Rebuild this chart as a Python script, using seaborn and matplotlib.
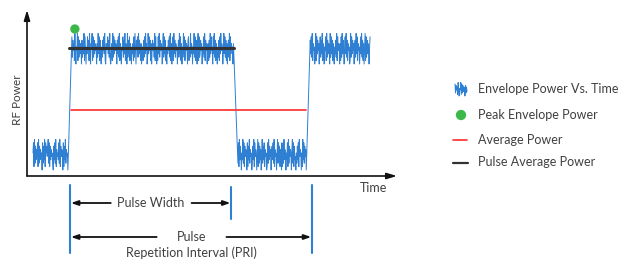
import numpy as np
import pandas as pd
import matplotlib
matplotlib.use("Agg")
import matplotlib.pyplot as plt
import seaborn as sns

# ---- data (time units / power units) ----
segments = ["low", "high", "low", "high"]
seg_start = [6, 45, 211, 284]
seg_end = [41, 207, 280, 344]
noise_digits = [
    "5819273648192736450827391857469281736452073829164538291746508173926450",
    "8274619305491827365072639184053847192065918273645062938174052748391065"
    "5837291046192837465073829164054827391650927381640536182940758293741605"
    "5172839460293847160574629183051839274650692837140537482916058193726450"
    "4729381605293817465078142936505392817406918237460538291746056172938450"
    "83927164052718394650493827160572918364506",
    "6281937405392817465081739264502739184650591827360492738164501829374605"
    "7382916450492837165081729364053819274650692817340527381946505193827460",
    "7382916450291837460582739164054819273650928371640537291846506182937405"
    "839271645019283746057293816450483927160591827364058",
]
low_base, high_base, noise_step = 6, 112, 3.4
avg_power = 66
pulse_avg_power = 128
pulse_avg_span = [42, 208]
avg_span = [44, 280]
peak_time, peak_power = 48, 147
marker_times = [43, 205, 286]
marker_spans = [(-9, -77), (-11, -43), (-9, -77)]

legend_labels = ["Envelope Power Vs. Time", "Peak Envelope Power",
                 "Average Power", "Pulse Average Power"]

# build envelope
ts, ps = [], []
for kind, a, b, digs in zip(segments, seg_start, seg_end, noise_digits):
    d = np.array([int(c) for c in digs])
    t = np.linspace(a, b, len(d))
    base = high_base if kind == "high" else low_base
    ts.extend(t)
    ps.extend(base + d * noise_step)
env = pd.DataFrame({"t": ts, "p": ps})

BLUE = "#2f7fd3"
TXT = "#404040"

sns.set_theme(style="white")
plt.rcParams["font.family"] = ["Lato", "DejaVu Sans"]

W, H = 625, 278
fig = plt.figure(figsize=(W / 100, H / 100), dpi=100)
ax = fig.add_axes([27 / W, (H - 176) / H, (397 - 27) / W, (176 - 10) / H])
ax.set_xlim(0, 371)
ax.set_ylim(0, 166)
ax.axis("off")

sns.lineplot(data=env, x="t", y="p", ax=ax, color=BLUE, linewidth=0.7,
             sort=False, estimator=None)
ax.plot(pulse_avg_span, [pulse_avg_power] * 2, color="#333333", lw=2.2)
ax.plot(avg_span, [avg_power] * 2, color="#ff2a2a", lw=1.2)
sns.scatterplot(x=[peak_time], y=[peak_power], ax=ax, color="#3cb84a",
                s=45, edgecolor="none", zorder=5)

# axes arrows
ax.annotate("", xy=(0, 1.0), xytext=(0, 0), xycoords="axes fraction",
            arrowprops=dict(arrowstyle="-|>,head_length=0.5,head_width=0.15",
                            color="#111111", lw=1.2, shrinkA=0, shrinkB=0),
            annotation_clip=False)
ax.annotate("", xy=(1.0, 0), xytext=(0, 0), xycoords="axes fraction",
            arrowprops=dict(arrowstyle="-|>,head_length=0.5,head_width=0.15",
                            color="#111111", lw=1.2, shrinkA=0, shrinkB=0),
            annotation_clip=False)
ax.text(348, -12, "Time", ha="center", va="center", color=TXT, fontsize=9,
        clip_on=False)
ax.text(-10, 76, "RF Power", ha="center", va="center", rotation=90,
        color=TXT, fontsize=8.5, clip_on=False)

# markers below
for t, (y0, y1) in zip(marker_times, marker_spans):
    ax.plot([t, t], [y0, y1], color=BLUE, lw=1.5, clip_on=False)

arr = dict(arrowstyle="-|>,head_length=0.35,head_width=0.12", color="#111111",
           lw=1.3, shrinkA=0, shrinkB=0)
ax.annotate("", xy=(44, -27), xytext=(84, -27), arrowprops=arr, annotation_clip=False)
ax.annotate("", xy=(204, -27), xytext=(165, -27), arrowprops=arr, annotation_clip=False)
ax.text(124, -27, "Pulse Width", ha="center", va="center", color=TXT, fontsize=9,
        clip_on=False)
ax.annotate("", xy=(44, -61), xytext=(130, -61), arrowprops=arr, annotation_clip=False)
ax.annotate("", xy=(285, -61), xytext=(200, -61), arrowprops=arr, annotation_clip=False)
ax.text(165, -61, "Pulse", ha="center", va="center", color=TXT, fontsize=9,
        clip_on=False)
ax.text(165, -77, "Repetition Interval (PRI)", ha="center", va="center",
        color=TXT, fontsize=9, clip_on=False)

# legend
lax = fig.add_axes([440 / W, (H - 180) / H, 185 / W, 110 / H])
lax.set_xlim(440, 625)
lax.set_ylim(180, 70)
lax.axis("off")
icon = np.array([int(c) for c in noise_digits[1][:24]])
lax.plot(np.linspace(455, 467, len(icon)), 96 - icon * 1.5, color=BLUE, lw=0.7)
lax.scatter([461], [115], s=55, color="#3cb84a", edgecolor="none")
lax.plot([453, 467], [140, 140], color="#ff2a2a", lw=1.2)
lax.plot([453, 468], [163, 163], color="#333333", lw=1.6)
for y, lab in zip([89, 115, 140, 162], legend_labels):
    lax.text(478, y, lab, ha="left", va="center", color=TXT, fontsize=9)

fig.savefig("out.png", dpi=100, facecolor="white")
